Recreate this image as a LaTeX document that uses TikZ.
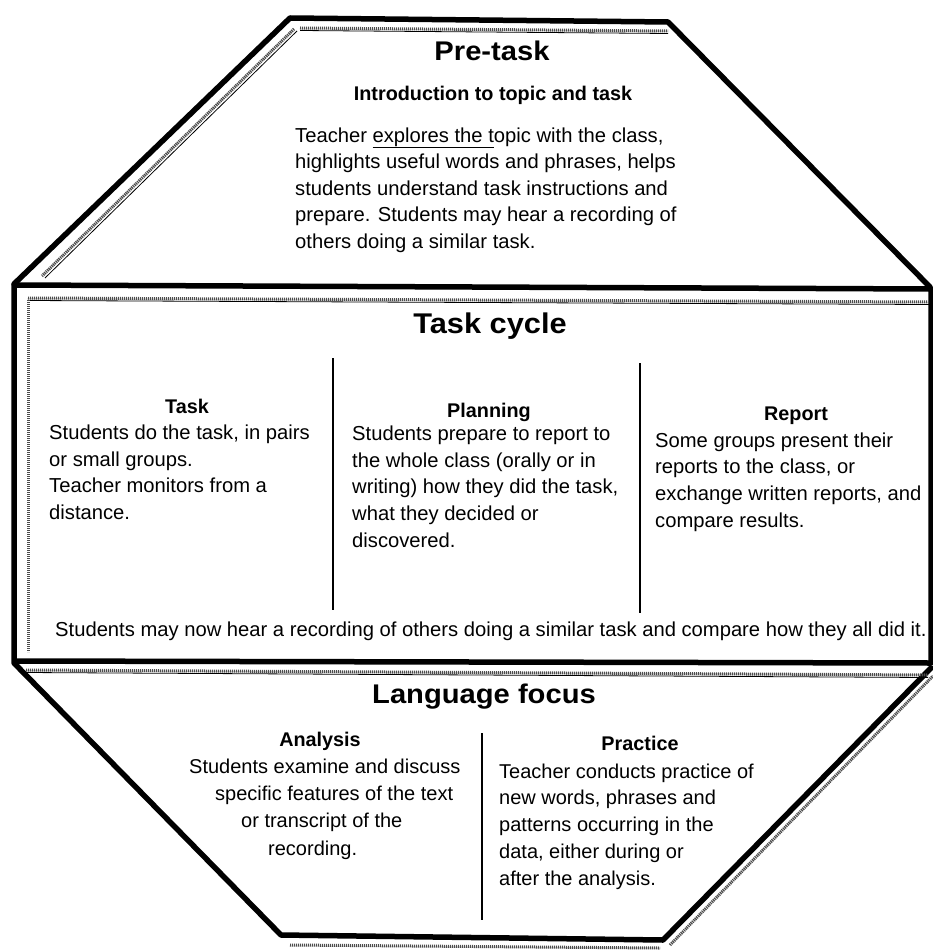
\documentclass[tikz,border=0pt]{standalone}
\usepackage{fontspec}
\setmainfont{Liberation Sans}
\newfontfamily\headfont[FakeStretch=1.08]{Liberation Sans Bold}
\begin{document}
\begin{tikzpicture}[x=1pt,y=-1pt,
  edge/.style={line width=5.5pt, line join=round, line cap=round},
  strip/.style={line width=3pt, black!70, dash pattern=on 1.2pt off 0.8pt},
  stripline/.style={line width=0.8pt},
  divider/.style={line width=1.3pt},
  head/.style={font=\headfont\fontsize{27}{30}\selectfont, inner sep=0pt, anchor=base},
  sub/.style={font=\bfseries\fontsize{19.8}{24}\selectfont, inner sep=0pt, anchor=base},
  body/.style={font=\fontsize{20.2}{26.6}\selectfont, align=left, inner sep=0pt, anchor=base west},
]
\useasboundingbox (0,0) rectangle (933,952);
\fill[white] (0,0) rectangle (933,952);

% ---------- outlines ----------
% pre-task trapezoid
\draw[edge] (14,284) -- (290,18) -- (668,22) -- (930,287);
% task cycle rectangle
\draw[edge] (14,285) -- (931,289) -- (931,663) -- (14,661) -- cycle;
% language focus shape
\draw[edge] (14,663) -- (281,935) -- (663,940) -- (931,668);

% ---------- textured strips ----------
\draw[strip] (300,28) -- (668,31);
\draw[stripline] (300,30.5) -- (668,33.5);
\draw[strip] (294,29) -- (42,276);
\draw[stripline] (297,31) -- (45,278);
\draw[strip] (28,298) -- (929,302);
\draw[stripline] (28,300.5) -- (929,304.5);
\draw[strip] (28,300) -- (28,652);
\draw[strip] (26,670) -- (928,675);
\draw[stripline] (26,672.5) -- (928,677.5);
\draw[strip] (670,945) -- (933,676);
\draw[strip] (290,945) -- (660,948);

% ---------- dividers ----------
\draw[divider] (333,358) -- (333,610);
\draw[divider] (640,363) -- (640,613);
\draw[divider] (482,733) -- (482,920);

% ---------- pre-task ----------
\node[head] (pre) at (492,61) {Pre-task};
\node[sub] (intro) at (493,101) {Introduction to topic and task};
\node[body] (pretext) at (295,248.5) {Teacher \underline{explores the t}opic with the class,\\
highlights useful words and phrases, helps\\
students understand task instructions and\\
prepare. Students may hear a recording of\\
others doing a similar task.};

% ---------- task cycle ----------
\node[head, font=\headfont\fontsize{28.5}{30}\selectfont] (cycle) at (490,333) {Task cycle};
\node[sub] (taskh) at (187,413) {Task};
\node[body] (tasktext) at (49,519.5) {Students do the task, in pairs\\
or small groups.\\
Teacher monitors from a\\
distance.};
\node[sub] (planh) at (489,417) {Planning};
\node[body] (plantext) at (352,547) {Students prepare to report to\\
the whole class (orally or in\\
writing) how they did the task,\\
what they decided or\\
discovered.};
\node[sub] (reph) at (796,420) {Report};
\node[body] (reptext) at (655,527) {Some groups present their\\
reports to the class, or\\
exchange written reports, and\\
compare results.};
\node[body] (bottom) at (55,636) {Students may now hear a recording of others doing a similar task and compare how they all did it.};

% ---------- language focus ----------
\node[head] (lang) at (484,703) {Language focus};
\node[sub] (anah) at (320,746) {Analysis};
\node[body, font=\fontsize{20}{27.3}\selectfont] (anatext) at (189,855) {Students examine and discuss\\
\hspace*{26pt}specific features of the text\\
\hspace*{52pt}or transcript of the\\
\hspace*{79pt}recording.};
\node[sub] (prah) at (640,750) {Practice};
\node[body, font=\fontsize{20}{26.75}\selectfont] (pratext) at (499,885) {Teacher conducts practice of\\
new words, phrases and\\
patterns occurring in the\\
data, either during or\\
after the analysis.};
\end{tikzpicture}
\end{document}
